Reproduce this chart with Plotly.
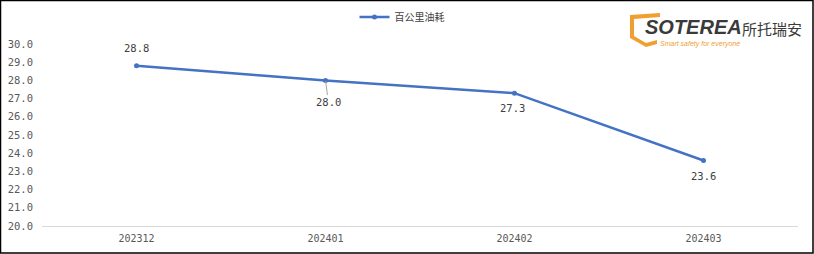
import plotly.graph_objects as go

categories = ["202312", "202401", "202402", "202403"]
values = [28.8, 28.0, 27.3, 23.6]
series_name = "百公里油耗"
y_ticks = [20, 21, 22, 23, 24, 25, 26, 27, 28, 29, 30]

W, H = 814, 254
L, R, T, B = 42, 798, 44, 226

def px(x):
    return (x - L) / (R - L)

def py(y):
    return (B - y) / (B - T)

FONT = "Noto Sans CJK SC"
NUMFONT = "DejaVu Sans Mono"
LINE_COLOR = "#4472C4"
TXT = "#404040"

fig = go.Figure()
fig.add_trace(go.Scatter(
    x=categories, y=values, name=series_name,
    mode="lines+markers",
    line=dict(color=LINE_COLOR, width=2.5),
    marker=dict(color=LINE_COLOR, size=5),
    showlegend=True,
))

# data labels (offsets in pixels from each point)
offsets = [(0, -18, False), (3, 22, True), (-2, 15, False), (0, 16, False)]
annotations = []
for i, (v, (dx, dy, arrow)) in enumerate(zip(values, offsets)):
    if arrow:
        annotations.append(dict(
            x=i, y=v, xref="x", yref="y", text=f"{v:.1f}",
            showarrow=True, arrowhead=0, arrowwidth=1, arrowcolor="#A6A6A6",
            ax=dx, ay=dy, standoff=1,
            font=dict(family=NUMFONT, size=10.5, color=TXT),
        ))
    else:
        annotations.append(dict(
            x=i, y=v, xref="x", yref="y", text=f"{v:.1f}",
            showarrow=False, xshift=dx, yshift=-dy,
            font=dict(family=NUMFONT, size=10.5, color=TXT),
        ))

# logo
annotations.append(dict(
    x=px(693), y=py(27), xref="paper", yref="paper", text="<b><i>SOTEREA</i></b>",
    showarrow=False, xanchor="center", yanchor="middle",
    font=dict(family="Liberation Sans", size=20, color="#3A3A3A"),
))
annotations.append(dict(
    x=px(772), y=py(28), xref="paper", yref="paper", text="所托瑞安",
    showarrow=False, xanchor="center", yanchor="middle",
    font=dict(family=FONT, size=15, color="#3A3A3A"),
))
annotations.append(dict(
    x=px(700), y=py(44), xref="paper", yref="paper", text="<i>Smart safety for everyone</i>",
    showarrow=False, xanchor="center", yanchor="middle",
    font=dict(family="Liberation Sans", size=7, color="#F0A030"),
))

shapes = [
    # outer border
    dict(type="rect", xref="paper", yref="paper",
         x0=px(0.5), x1=px(813), y0=py(253), y1=py(0.5),
         line=dict(color="#000000", width=1.5), fillcolor="rgba(0,0,0,0)", layer="above"),
    # shield outline
    dict(type="path", xref="paper", yref="paper",
         path=(f"M {px(630)},{py(15)} L {px(660)},{py(13)} L {px(660)},{py(17)} "
               f"L {px(634)},{py(19)} L {px(634)},{py(36)} L {px(646)},{py(43)} "
               f"L {px(657)},{py(40)} L {px(657)},{py(44)} L {px(646)},{py(47)} "
               f"L {px(630)},{py(38)} Z"),
         fillcolor="#F0A030", line=dict(width=0)),
]

fig.update_layout(
    width=W, height=H,
    margin=dict(l=L, r=W - R, t=T, b=H - B, autoexpand=False),
    paper_bgcolor="white", plot_bgcolor="white",
    font=dict(family=FONT, size=11, color="#595959"),
    showlegend=True,
    legend=dict(orientation="h", x=px(402), xanchor="center", y=py(17), yanchor="middle",
                font=dict(family=FONT, size=10, color=TXT), bgcolor="rgba(0,0,0,0)"),
    xaxis=dict(type="category", range=[-0.5, 3.5], showgrid=False, showline=True,
               linecolor="#D9D9D9", linewidth=1, ticks="", zeroline=False,
               ticklabelstandoff=3,
               tickfont=dict(family=NUMFONT, size=10, color="#595959")),
    yaxis=dict(range=[20, 30], tickvals=y_ticks, ticktext=[f"{t:.1f}" for t in y_ticks],
               showgrid=False, showline=False, zeroline=False, ticks="",
               ticklabelstandoff=8,
               tickfont=dict(family=NUMFONT, size=10.5, color="#595959")),
    annotations=annotations,
    shapes=shapes,
)

fig.write_html("out.html")
